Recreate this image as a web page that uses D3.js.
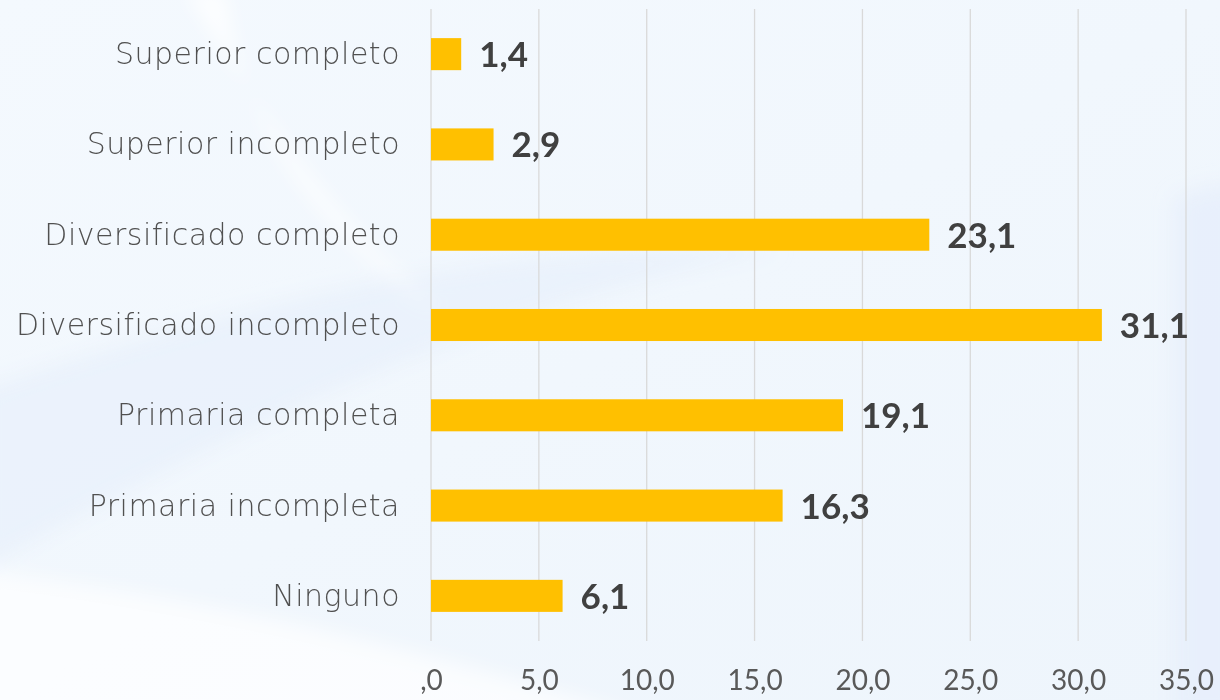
<!DOCTYPE html>
<html>
<head>
<meta charset="utf-8">
<title>Nivel educativo</title>
<script src="https://d3js.org/d3.v7.min.js"></script>
<style>
  body { margin: 0; background: #f0f6fd; }
  svg { display: block; }
</style>
</head>
<body>
<div id="chart"></div>
<script>

// datos: de arriba hacia abajo
const categorias = ["Superior completo", "Superior incompleto", "Diversificado completo",
  "Diversificado incompleto", "Primaria completa", "Primaria incompleta", "Ninguno"];
const valores = [1.4, 2.9, 23.1, 31.1, 19.1, 16.3, 6.1];
const ticks = [0, 5, 10, 15, 20, 25, 30, 35];

const W = 1220, H = 700;
const margin = {top: 9, right: 34, bottom: 59, left: 431};

const fmt = v => {
  let s = d3.format(".1f")(v).replace(".", ",");
  return s.startsWith("0,") ? s.slice(1) : s;
};

const svg = d3.select("#chart").append("svg")
    .attr("width", W)
    .attr("height", H);

// fondo claro con trazos suaves
const defs = svg.append("defs");
const grad = defs.append("linearGradient").attr("id", "bg")
    .attr("x1", 0).attr("y1", 0).attr("x2", 1).attr("y2", 1);
grad.append("stop").attr("offset", 0).attr("stop-color", "#f4f9fe");
grad.append("stop").attr("offset", 1).attr("stop-color", "#eef5fc");
defs.append("filter").attr("id", "soft")
    .attr("x", "-20%").attr("y", "-20%").attr("width", "140%").attr("height", "140%")
  .append("feGaussianBlur").attr("stdDeviation", 10);

svg.append("rect").attr("width", W).attr("height", H).attr("fill", "url(#bg)");
const bgShapes = svg.append("g").attr("filter", "url(#soft)");
bgShapes.append("path")
    .attr("d", "M-20,390 C250,300 500,240 780,250 C500,300 250,420 -20,570 Z")
    .attr("fill", "#e8f0fb").attr("opacity", 0.8);
bgShapes.append("path")
    .attr("d", "M-20,570 C220,600 430,650 650,720 L-20,720 Z")
    .attr("fill", "#ffffff").attr("opacity", 0.7);
bgShapes.append("path")
    .attr("d", "M185,-10 C260,110 330,220 440,310 C310,230 240,120 225,-10 Z")
    .attr("fill", "#ffffff").attr("opacity", 0.8);
bgShapes.append("path")
    .attr("d", "M1175,200 C1195,190 1215,185 1240,185 L1240,720 L1175,720 Z")
    .attr("fill", "#e6eefb").attr("opacity", 0.8);

const x = d3.scaleLinear()
    .domain([0, 35])
    .range([margin.left, W - margin.right]);

const y = d3.scaleBand()
    .domain(categorias)
    .range([margin.top, H - margin.bottom])
    .paddingInner(0.645)
    .paddingOuter(0.3225);

// cuadricula vertical
svg.append("g")
  .selectAll("line")
  .data(ticks)
  .join("line")
    .attr("x1", d => x(d)).attr("x2", d => x(d))
    .attr("y1", margin.top).attr("y2", H - margin.bottom)
    .attr("stroke", "#d9d9d9")
    .attr("stroke-width", 1.3);

// eje x
const xAxis = svg.append("g")
    .attr("transform", `translate(0,${H - margin.bottom})`)
    .call(d3.axisBottom(x).tickValues(ticks).tickFormat(fmt).tickSize(0).tickPadding(22));
xAxis.select(".domain").remove();
xAxis.selectAll("text")
    .attr("font-family", "Lato, sans-serif")
    .attr("font-size", 28)
    .attr("fill", "#595959")
    .attr("dy", "0.95em");

// barras
svg.append("g")
  .selectAll("rect")
  .data(valores)
  .join("rect")
    .attr("x", x(0))
    .attr("y", (d, i) => y(categorias[i]))
    .attr("width", d => x(d) - x(0))
    .attr("height", y.bandwidth())
    .attr("fill", "#ffc000");

// etiquetas de valores
svg.append("g")
  .selectAll("text")
  .data(valores)
  .join("text")
    .attr("x", d => x(d) + 18)
    .attr("y", (d, i) => y(categorias[i]) + y.bandwidth() / 2 + 13)
    .attr("font-family", "Lato, sans-serif")
    .attr("font-weight", "bold")
    .attr("font-size", 35)
    .attr("fill", "#404040")
    .text(fmt);

// categorias
svg.append("g")
  .selectAll("text")
  .data(categorias)
  .join("text")
    .attr("x", 400)
    .attr("y", d => y(d) + y.bandwidth() / 2 + 10)
    .attr("text-anchor", "end")
    .attr("font-family", "'DejaVu Sans', sans-serif")
    .attr("font-weight", 200)
    .attr("font-size", 30)
    .attr("letter-spacing", 0.5)
    .attr("fill", "#505050")
    .text(d => d);

</script>
</body>
</html>
